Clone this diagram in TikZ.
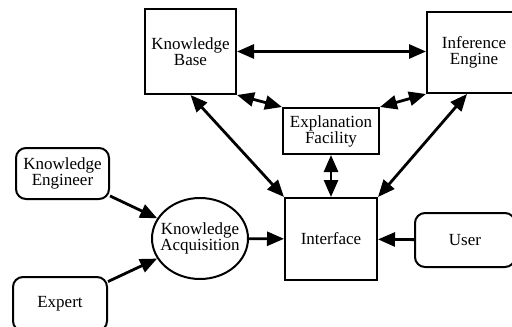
\documentclass[tikz,border=0pt]{standalone}
\usepackage{fontspec}
\setmainfont{Liberation Serif}
\usetikzlibrary{arrows.meta,shapes.geometric}

\begin{document}
\begin{tikzpicture}[x=0.5pt,y=-0.5pt,
    >={Triangle[length=8.5pt,width=7pt]},
    every node/.style={font=\fontsize{8.5}{8}\selectfont,align=center,inner sep=0pt},
    blk/.style={draw,line width=1pt},
    rblk/.style={draw,line width=1pt,rounded corners=5pt},
    oval/.style={draw,line width=1pt,ellipse,inner xsep=-8pt},
    link/.style={line width=1.4pt}]
  \clip (0,0) rectangle (512,326);
  % boxes
  \node[blk,minimum width=45.5pt,minimum height=42.5pt] (kb) at (190.5,51.5) {Knowledge\\Base};
  \node[blk,minimum width=47pt,minimum height=40.5pt] (ie) at (474,52.5) {Inference\\Engine};
  \node[blk,minimum width=48pt,minimum height=23pt] (ef) at (331,131) {Explanation\\Facility};
  \node[blk,minimum width=46pt,minimum height=41pt] (ui) at (331,239) {Interface};
  \node[rblk,minimum width=46.5pt,minimum height=25.5pt] (ke) at (62.5,173.5) {Knowledge\\Engineer};
  \node[rblk,minimum width=47pt,minimum height=27pt] (ex) at (60,304) {Expert};
  \node[rblk,minimum width=50pt,minimum height=27pt] (us) at (465,240) {User};
  \node[oval,minimum width=48pt,minimum height=40.5pt] (ka) at (200,238.5) {Knowledge\\Acquisition};
  % links
  \begin{scope}[link]
    \draw[<->] (kb.east) -- (kb.east -| ie.west);
    \draw[<->] (kb.south east) -- (ef.north west);
    \draw[<->] (ie.south west) -- (ef.north east);
    \draw[<->] (kb.south) -- (ui.north west);
    \draw[<->] ([xshift=-3.5pt]ie.south) -- (ui.north east);
    \draw[<->] (ef) -- (ui);
    \draw[->] (ke) -- (ka);
    \draw[->] (ex) -- (ka);
    \draw[->] (ka) -- (ui);
    \draw[->] (us) -- (ui);
  \end{scope}
\end{tikzpicture}
\end{document}
